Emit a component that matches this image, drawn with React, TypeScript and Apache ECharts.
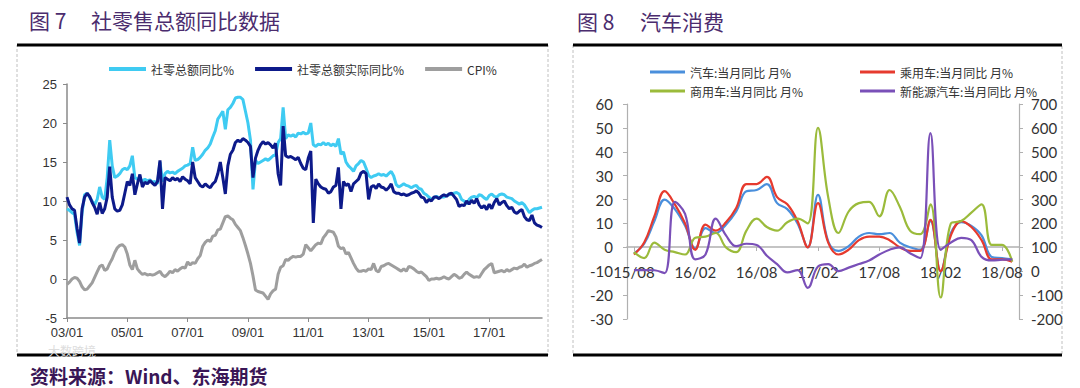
import React, { useEffect, useRef } from "react";
import * as echarts from "echarts";

// ---------- Left chart: 社零售总额同比数据 (monthly from 2003/01) ----------
const retailNominal = [
  9.0, 8.8, 8.5, 8.3, 6.0, 4.3, 8.5, 10.8, 11.0, 10.5,
  10.0, 9.5, 10.2, 11.8, 10.5, 10.2, 13.0, 17.8, 14.5, 13.0,
  13.2, 13.5, 14.0, 14.2, 14.0, 14.5, 15.8, 13.0, 12.8, 13.0,
  12.5, 12.8, 12.6, 12.7, 12.4, 12.5, 12.2, 15.0, 12.5, 13.5,
  13.8, 13.6, 13.7, 13.5, 13.8, 14.0, 14.2, 14.5, 14.6, 14.8,
  16.9, 15.2, 15.3, 15.6, 16.0, 16.5, 16.8, 17.3, 18.2, 19.0,
  20.5, 21.0, 21.5, 19.2, 21.7, 22.0, 22.5, 23.2, 23.3, 23.3,
  23.0, 21.5, 20.0, 17.8, 11.5, 15.2, 14.8, 15.0, 15.2, 15.4,
  15.2, 15.5, 15.8, 15.9, 17.5, 18.0, 22.0, 18.0, 18.5, 18.3,
  18.5, 18.2, 18.7, 18.6, 18.8, 18.6, 18.7, 20.0, 17.2, 17.0,
  17.3, 17.2, 17.5, 17.2, 17.4, 17.1, 17.3, 17.0, 18.0, 16.0,
  16.3, 15.0, 14.5, 14.2, 13.8, 14.5, 14.8, 15.2, 15.0, 14.2,
  13.3, 13.0, 13.2, 13.3, 13.5, 13.3, 13.4, 13.2, 13.5, 13.8,
  13.2, 12.1, 11.8, 12.0, 12.2, 12.0, 11.9, 11.7, 11.9, 12.0,
  11.6, 11.5, 11.0, 10.8, 10.5, 10.2, 10.4, 10.6, 10.4, 10.5,
  10.5, 10.7, 10.8, 10.9, 11.0, 11.1, 10.9, 10.2, 10.0, 9.6,
  10.2, 10.5, 10.6, 10.4, 10.8, 10.7, 10.4, 10.2, 10.7, 10.9,
  10.6, 10.5, 10.8, 10.9, 10.8, 10.5, 10.4, 10.3, 10.0, 9.8,
  9.6, 9.8, 9.5, 9.0, 8.5, 8.8, 9.0, 9.0, 9.1, 9.2,
];
const retailReal = [
  10.5, 9.5, 9.0, 8.8, 6.5, 4.6, 9.0, 10.5, 11.0, 10.6,
  9.8, 9.2, 8.3, 9.8, 8.4, 9.0, 10.5, 14.4, 10.5, 9.0,
  8.7, 8.8, 9.5, 11.0, 12.5, 12.0, 13.5, 10.8, 12.2, 13.4,
  11.8, 12.4, 12.2, 12.6, 12.3, 12.0, 12.5, 15.2, 9.0, 13.0,
  12.8, 12.6, 13.0, 12.7, 12.9, 12.5, 13.1, 12.8, 12.6, 12.2,
  15.0, 13.0, 12.5, 12.0, 11.8, 12.2, 11.9, 11.7, 12.2, 12.5,
  13.5, 15.0, 13.0, 10.9, 14.5, 16.0, 16.5, 17.5, 17.8, 17.6,
  18.0, 17.8, 17.5, 17.0, 13.0, 15.5, 16.5, 17.2, 17.6, 17.3,
  17.5, 17.2, 16.8, 17.4, 13.5, 12.0, 19.6, 15.8, 15.6, 15.7,
  15.5, 15.3, 15.6, 14.8, 14.2, 14.0, 15.5, 16.4, 7.2, 12.8,
  12.2, 11.8, 11.6, 11.5, 11.0, 11.2, 11.8, 12.0, 14.3, 9.0,
  12.5, 12.0, 12.2, 11.2, 12.2, 12.5, 12.8, 13.6, 13.8, 13.5,
  10.2, 11.8, 12.0, 11.6, 12.2, 11.8, 11.7, 11.4, 11.7, 12.2,
  11.2, 11.0, 11.0, 10.8, 10.9, 10.7, 10.8, 11.0, 11.1, 11.3,
  11.0, 10.5, 10.4, 9.8, 10.2, 10.0, 10.5, 10.5, 10.3, 10.6,
  10.8, 10.6, 10.9, 11.0, 10.6, 10.2, 9.3, 9.5, 9.4, 10.0,
  9.6, 10.1, 9.7, 10.3, 9.5, 9.1, 9.4, 8.9, 9.6, 9.0,
  9.8, 10.3, 9.5, 9.8, 10.0, 9.4, 9.0, 9.2, 8.6, 8.4,
  8.7, 8.9, 8.0, 7.6, 7.5, 8.2, 7.2, 6.9, 6.8, 6.6,
];
const cpi = [
  -0.7, -0.4, 0.0, 0.2, 0.1, -0.3, -1.0, -1.4, -1.3, -0.9,
  -0.5, 0.2, 0.9, 1.6, 1.8, 1.1, 1.3, 2.0, 2.6, 3.4,
  4.0, 4.3, 4.4, 4.1, 3.2, 1.8, 1.2, 2.4, 1.3, 0.9,
  0.6, 0.7, 0.5, 0.6, 0.5, 0.6, 0.8, 1.0, 0.5, 0.3,
  0.6, 1.0, 0.8, 1.2, 1.0, 1.3, 1.5, 1.4, 2.2, 1.8,
  2.1, 2.0, 2.6, 3.0, 4.2, 4.7, 5.0, 4.8, 5.5, 5.6,
  6.3, 6.4, 7.2, 8.0, 8.1, 7.8, 7.6, 7.0, 6.6, 6.2,
  5.3, 4.3, 3.2, 2.0, 0.4, -1.4, -1.6, -1.7, -1.8, -2.2,
  -2.6, -1.9, -1.5, -1.3, 0.6, 1.5, 1.7, 2.5, 2.4, 2.7,
  2.9, 2.8, 2.9, 2.9, 3.2, 4.4, 4.0, 3.6, 4.0, 4.4,
  4.6, 4.5, 5.3, 5.7, 6.2, 6.1, 6.0, 5.4, 4.2, 3.9,
  4.0, 3.2, 3.4, 2.7, 2.0, 1.4, 1.0, 1.0, 1.1, 1.0,
  1.3, 1.2, 2.0, 1.1, 0.9, 1.6, 1.7, 1.9, 2.0, 1.8,
  1.6, 1.4, 1.2, 1.0, 1.3, 1.0, 1.6, 1.5, 1.3, 1.0,
  0.8, 0.9, 0.6, 0.3, -0.2, 0.0, 0.0, 0.1, 0.0, 0.1,
  0.3, 0.1, 0.0, 0.3, 0.6, 0.4, 0.1, 0.2, 0.6, 0.9,
  0.6, 0.4, 0.2, 0.3, 0.2, 0.7, 1.2, 1.5, 1.8, 2.0,
  0.8, 0.9, 1.0, 1.1, 0.9, 1.2, 1.0, 1.2, 1.4, 1.3,
  1.5, 1.6, 1.9, 1.5, 1.7, 1.8, 2.0, 2.1, 2.3, 2.5,
];
const leftSeriesNames = ["社零总额同比%", "社零总额实际同比%", "CPI%"];

// ---------- Right chart: 汽车消费 (monthly from 2015/08) ----------
const autoAll = [
  -2.5, 1.5, 11, 20, 16, 9, -0.5, 8, 6, 9.5, 15, 23.5, 24, 26.5, 18.5, 16, 10, 0, 22,
  2.5, -1.5, 0.5, 4.5, 6, 5.5, 6, 2, 0, -1, 11, -10, 6, 10.5, 9, 5, -4, -4.5, -5,
];
const autoPassenger = [
  -3, 2, 13, 23.5, 18, 10, -1, 9.5, 7, 10.5, 16.5, 26.5, 26.5, 29.5, 21, 18, 11, 0, 18.5,
  2, -3, -1, 3, 4.5, 4.5, 3, 0, -1.5, -1.5, 11.5, -10, 5, 11, 8.5, 3, -5, -5, -6,
];
const autoCommercial = [
  -2, -4.5, 2, -1, -2, -3, 4, 4.5, 6, 0, -2, 7, 12, 8.5, 7, 10.5, 12, 10, 50,
  21, 6, 15, 18.5, 19, 13, 24, 17, 7, 5.5, 18, -21, 10, 11, 14.5, 18, 1, 1, -6,
];
const autoNewEnergy = [
  5, 5, 4, -8, 290, 240, 50, 70, 220, 150, 105, 115, 110, 65, 30, -5, 5, -70, 20,
  30, 0, 15, 30, 45, 70, 90, 100, 75, 55, 578, 90, 120, 140, 130, 60, 45, 48, 50,
];
const rightSeriesNames = [
  "汽车:当月同比 月%",
  "乘用车:当月同比 月%",
  "商用车:当月同比 月%",
  "新能源汽车:当月同比 月%",
];
const rightTickIdx = [0, 6, 12, 18, 24, 30, 36];

function monthLabels(startYear: number, startMonth: number, count: number) {
  const out: string[] = [];
  for (let k = 0; k < count; k++) {
    const m0 = startMonth - 1 + k;
    const y = startYear + Math.floor(m0 / 12);
    const m = (m0 % 12) + 1;
    out.push(String(y % 100).padStart(2, "0") + "/" + String(m).padStart(2, "0"));
  }
  return out;
}
const leftMonths = monthLabels(2003, 1, retailNominal.length);
const rightMonths = monthLabels(2015, 8, autoAll.length);

const LATIN = '"Liberation Sans", Arial, sans-serif';
const CJK = '"Noto Sans CJK SC", sans-serif';
const TITLE_COLOR = "#4b2c6e";
const X_MIN = -0.68;
const X_MAX = 37.66;

export default function App() {
  const ref = useRef<HTMLDivElement>(null);
  useEffect(() => {
    if (!ref.current) return;
    const chart = echarts.init(ref.current, undefined, { renderer: "svg" });
    const leftColors = ["#3fcbf2", "#0d1a8a", "#9e9e9e"];
    const rightColors = ["#4a8fdc", "#e63a2e", "#9bbb3b", "#7a50b8"];
    const pairs = (arr: number[]) => arr.map((v, j) => [j, v]);

    const option: any = {
      animation: false,
      backgroundColor: "#ffffff",
      legend: [
        {
          left: 104,
          top: 58,
          icon: "rect",
          itemWidth: 37,
          itemHeight: 4,
          itemGap: 21,
          data: leftSeriesNames,
          textStyle: { fontSize: 12, color: "#333", fontFamily: CJK },
        },
        ...rightSeriesNames.map((n, k) => ({
          left: k % 2 === 0 ? 645 : 855,
          top: k < 2 ? 61 : 80,
          icon: "rect",
          itemWidth: 35,
          itemHeight: 3,
          data: [n],
          textStyle: { fontSize: 12, color: "#333", fontFamily: CJK },
        })),
      ],
      grid: [
        { left: 67, top: 84, width: 475, height: 234 },
        { left: 627, top: 104, width: 392, height: 215 },
        // carrier for the right chart's month axis, which sits on the zero line
        { left: 627, top: 104, width: 392, height: 143 },
      ],
      xAxis: [
        {
          type: "category",
          gridIndex: 0,
          data: leftMonths,
          boundaryGap: false,
          axisLine: { onZero: false, lineStyle: { color: "#8a8a8a", width: 1.5 } },
          axisTick: { interval: 23, length: 4, lineStyle: { color: "#8a8a8a" } },
          axisLabel: { interval: 23, fontSize: 13, color: "#333", margin: 8, fontFamily: LATIN },
          splitLine: { show: false },
        },
        {
          type: "value",
          gridIndex: 1,
          min: X_MIN,
          max: X_MAX,
          show: false,
          axisLine: { onZero: false },
          splitLine: { show: false },
        },
        {
          type: "value",
          gridIndex: 2,
          min: X_MIN,
          max: X_MAX,
          axisLine: { show: true, onZero: false, lineStyle: { color: "#b0b0b0", width: 1.5 } },
          axisTick: { show: true, customValues: rightTickIdx, length: 4, lineStyle: { color: "#b0b0b0" } },
          axisLabel: {
            customValues: rightTickIdx,
            formatter: (v: number) => rightMonths[Math.round(v)] ?? "",
            fontSize: 15,
            color: "#333",
            margin: 17,
            fontFamily: "Lato, sans-serif",
          },
          splitLine: { show: false },
        },
      ],
      yAxis: [
        {
          type: "value",
          gridIndex: 0,
          min: -5,
          max: 25,
          interval: 5,
          axisLine: { show: true, onZero: false, lineStyle: { color: "#8a8a8a", width: 1.5 } },
          axisTick: { show: true, length: 4, lineStyle: { color: "#8a8a8a" } },
          axisLabel: { fontSize: 13, color: "#333", margin: 10, fontFamily: LATIN },
          splitLine: { show: false },
        },
        {
          type: "value",
          gridIndex: 1,
          position: "left",
          min: -30,
          max: 60,
          interval: 10,
          axisLine: { show: true, onZero: false, lineStyle: { color: "#b0b0b0", width: 1.2 } },
          axisTick: { show: true, length: 4, lineStyle: { color: "#b0b0b0" } },
          axisLabel: { fontSize: 15, color: "#333", margin: 14, fontFamily: "Lato, sans-serif" },
          splitLine: { show: false },
        },
        {
          type: "value",
          gridIndex: 1,
          position: "right",
          min: -200,
          max: 700,
          interval: 100,
          axisLine: { show: true, onZero: false, lineStyle: { color: "#b0b0b0", width: 1.2 } },
          axisTick: { show: true, length: 4, lineStyle: { color: "#b0b0b0" } },
          axisLabel: { fontSize: 15, color: "#333", margin: 12, fontFamily: "Lato, sans-serif" },
          splitLine: { show: false },
        },
        {
          type: "value",
          gridIndex: 2,
          min: 0,
          max: 1,
          show: false,
          axisLine: { onZero: false },
          splitLine: { show: false },
        },
      ],
      series: [
        ...[retailNominal, retailReal, cpi].map((d, k) => ({
          name: leftSeriesNames[k],
          type: "line",
          xAxisIndex: 0,
          yAxisIndex: 0,
          data: d,
          symbol: "none",
          lineStyle: { color: leftColors[k], width: 3 },
          itemStyle: { color: leftColors[k] },
        })),
        ...[autoAll, autoPassenger, autoCommercial, autoNewEnergy].map((d, k) => ({
          name: rightSeriesNames[k],
          type: "line",
          xAxisIndex: 1,
          yAxisIndex: k === 3 ? 2 : 1,
          data: pairs(d),
          symbol: "none",
          smooth: 0.4,
          lineStyle: { color: rightColors[k], width: 2.2 },
          itemStyle: { color: rightColors[k] },
        })),
      ],
      graphic: [
        // faint watermark
        {
          type: "text",
          x: 48,
          y: 350,
          z: 1,
          style: { text: "大数跨境", font: `12px ${CJK}`, fill: "#dddddd", verticalAlign: "middle" },
        },
        // dashed frames
        {
          type: "rect",
          shape: { x: 17, y: 45, width: 531, height: 310 },
          style: { fill: "none", stroke: "#c0c0c0", lineWidth: 1, lineDash: [3, 2] },
        },
        {
          type: "rect",
          shape: { x: 573, y: 45, width: 489, height: 310 },
          style: { fill: "none", stroke: "#c0c0c0", lineWidth: 1, lineDash: [3, 2] },
        },
        // clip right-axis labels at the frame
        {
          type: "rect",
          z: 100,
          shape: { x: 1063, y: 260, width: 17, height: 80 },
          style: { fill: "#ffffff" },
        },
        // thick black rules
        { type: "line", shape: { x1: 17, y1: 45, x2: 548, y2: 45 }, style: { stroke: "#000", lineWidth: 3 } },
        { type: "line", shape: { x1: 17, y1: 355, x2: 548, y2: 355 }, style: { stroke: "#000", lineWidth: 3 } },
        { type: "line", shape: { x1: 573, y1: 45, x2: 1062, y2: 45 }, style: { stroke: "#000", lineWidth: 3 } },
        { type: "line", shape: { x1: 573, y1: 355, x2: 1062, y2: 355 }, style: { stroke: "#000", lineWidth: 3 } },
        // titles
        {
          type: "text",
          x: 29,
          y: 20,
          style: { text: "图 7", font: `21px ${CJK}`, fill: TITLE_COLOR, verticalAlign: "middle" },
        },
        {
          type: "text",
          x: 91,
          y: 20,
          style: { text: "社零售总额同比数据", font: `21px ${CJK}`, fill: TITLE_COLOR, verticalAlign: "middle" },
        },
        {
          type: "text",
          x: 577,
          y: 21,
          style: { text: "图 8", font: `21px ${CJK}`, fill: TITLE_COLOR, verticalAlign: "middle" },
        },
        {
          type: "text",
          x: 640,
          y: 21,
          style: { text: "汽车消费", font: `21px ${CJK}`, fill: TITLE_COLOR, verticalAlign: "middle" },
        },
        // source
        {
          type: "text",
          x: 30,
          y: 375,
          z: 5,
          style: { text: "资料来源：Wind、东海期货", font: `bold 19px ${CJK}`, fill: "#3a1656", verticalAlign: "middle" },
        },
      ],
    };
    chart.setOption(option);
    return () => chart.dispose();
  }, []);

  return (
    <div
      ref={ref}
      style={{ position: "fixed", left: 0, top: 0, width: 1080, height: 388, background: "#fff" }}
    />
  );
}
